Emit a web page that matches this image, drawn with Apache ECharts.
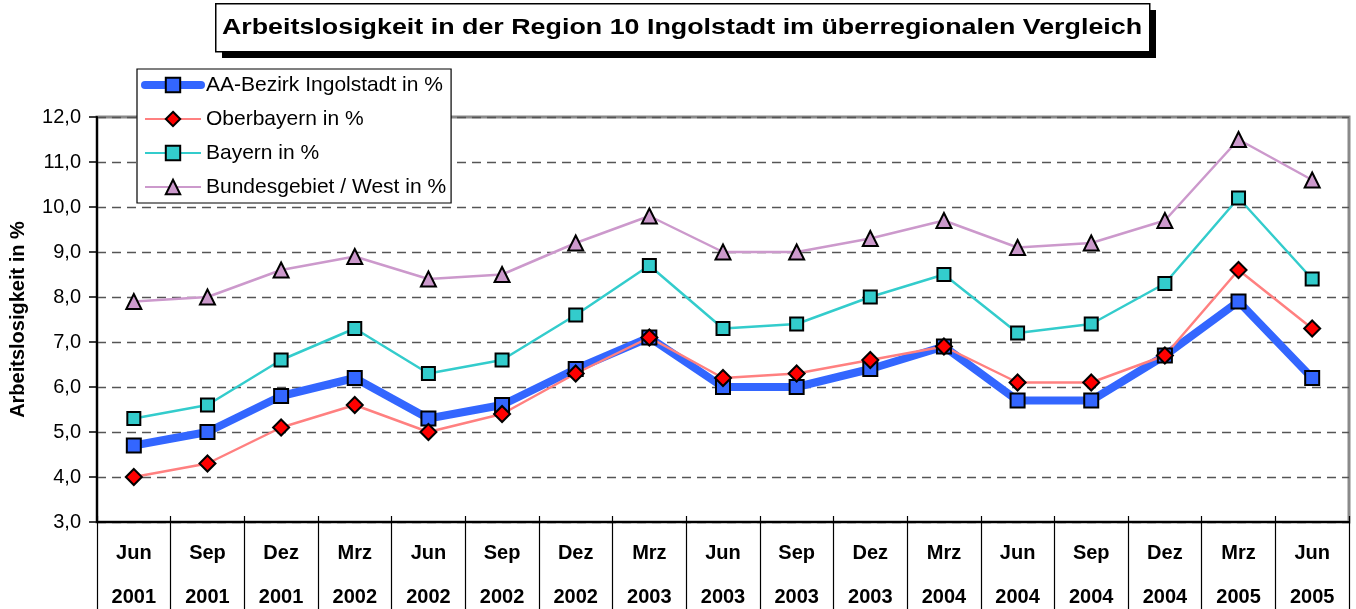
<!DOCTYPE html>
<html>
<head>
<meta charset="utf-8">
<script src="https://cdn.jsdelivr.net/npm/echarts@6/dist/echarts.min.js"></script>
<style>
html,body{margin:0;padding:0;background:#fff;}
#c{width:1356px;height:609px;}
</style>
</head>
<body>
<div id="c"></div>
<script>
const months = ['Jun','Sep','Dez','Mrz','Jun','Sep','Dez','Mrz','Jun','Sep','Dez','Mrz','Jun','Sep','Dez','Mrz','Jun'];
const years  = ['2001','2001','2001','2002','2002','2002','2002','2003','2003','2003','2003','2004','2004','2004','2004','2005','2005'];
const categories = months.map((m,i)=>m+'\n'+years[i]);

const aaIngolstadt = [4.7,5.0,5.8,6.2,5.3,5.6,6.4,7.1,6.0,6.0,6.4,6.9,5.7,5.7,6.7,7.9,6.2];
const oberbayern   = [4.0,4.3,5.1,5.6,5.0,5.4,6.3,7.1,6.2,6.3,6.6,6.9,6.1,6.1,6.7,8.6,7.3];
const bayern       = [5.3,5.6,6.6,7.3,6.3,6.6,7.6,8.7,7.3,7.4,8.0,8.5,7.2,7.4,8.3,10.2,8.4];
const bundWest     = [7.9,8.0,8.6,8.9,8.4,8.5,9.2,9.8,9.0,9.0,9.3,9.7,9.1,9.2,9.7,11.5,10.6];

const titleText = 'Arbeitslosigkeit in der Region 10 Ingolstadt im überregionalen Vergleich';
const FONT = '"Liberation Sans", Arial, sans-serif';
const chart = echarts.init(document.getElementById('c'));

function mk(name, data, lineColor, lineWidth, symbol, size, fill){
  return {
    name, type:'line', data,
    symbol, symbolSize:size,
    lineStyle:{color:lineColor, width:lineWidth},
    itemStyle:{color:fill, borderColor:'#000', borderWidth:2},
    emphasis:{disabled:true},
    xAxisIndex:0, yAxisIndex:0
  };
}

chart.setOption({
  animation:false,
  textStyle:{fontFamily:FONT},
  graphic:[
    {type:'rect', left:222, top:10, z:10, shape:{width:934, height:48}, style:{fill:'#000'}},
    {type:'rect', left:215, top:3, z:11, shape:{width:934, height:48}, style:{fill:'#fff', stroke:'#000', lineWidth:1.5}},
    {type:'text', x:682, y:28, z:12, scaleX:1.22,
      style:{text:titleText, x:0, y:0, align:'center', verticalAlign:'middle',
        font:'bold 22px "Liberation Sans", Arial, sans-serif', fill:'#000'}}
  ],
  legend:{
    orient:'vertical', left:137, top:69,
    padding:[4,5,4,4],
    backgroundColor:'#fff', borderColor:'#000', borderWidth:1.2,
    itemWidth:56, itemHeight:18, itemGap:10,
    textStyle:{fontFamily:FONT, fontSize:21, color:'#000', lineHeight:24},
    data:[
      {name:'AA-Bezirk Ingolstadt in %', lineStyle:{width:8, cap:'round'}},
      {name:'Oberbayern in %'},
      {name:'Bayern in %'},
      {name:'Bundesgebiet / West in %'}
    ]
  },
  grid:{left:97, right:7, top:117, bottom:87, outerBoundsMode:'none', containLabel:false,
    show:true, borderColor:'#8a8a8a', borderWidth:3, backgroundColor:'transparent'},
  xAxis:[{
    type:'category', data:categories, boundaryGap:true,
    axisLine:{lineStyle:{color:'#000', width:2}},
    axisTick:{show:true, length:87, lineStyle:{color:'#000', width:1.2}},
    axisLabel:{
      margin:9, interval:0,
      formatter:(v)=>{const p=v.split('\n'); return '{a|'+p[0]+'}\n{b|'+p[1]+'}';},
      rich:{
        a:{fontFamily:FONT, fontSize:20, fontWeight:'bold', color:'#000', lineHeight:44},
        b:{fontFamily:FONT, fontSize:20, fontWeight:'bold', color:'#000', lineHeight:44}
      }
    },
    splitLine:{show:false}
  },{
    type:'category', data:categories, boundaryGap:true, position:'bottom',
    axisLine:{show:false},
    axisTick:{show:true, inside:true, length:6, lineStyle:{color:'#000', width:1.2}},
    axisLabel:{show:false}, splitLine:{show:false}
  }],
  yAxis:{
    type:'value', min:3, max:12, interval:1,
    name:'Arbeitslosigkeit in %', nameLocation:'middle', nameGap:69,
    nameTextStyle:{fontFamily:FONT, fontSize:20, fontWeight:'bold', color:'#000'},
    axisLine:{show:true, lineStyle:{color:'#000', width:2}},
    axisTick:{show:true, length:8, lineStyle:{color:'#000', width:1.5}},
    axisLabel:{fontFamily:FONT, fontSize:20, color:'#000', margin:16,
      formatter:(v)=>v.toFixed(1).replace('.',',')},
    splitLine:{show:true, lineStyle:{color:'#555', width:1.3, type:[9,6]}}
  },
  series:[
    mk('AA-Bezirk Ingolstadt in %', aaIngolstadt, '#3366FF', 8, 'rect', 14, '#3366FF'),
    mk('Oberbayern in %', oberbayern, '#FF8080', 2.5, 'diamond', 16, '#FF0000'),
    mk('Bayern in %', bayern, '#33CCCC', 2.5, 'rect', 13, '#33CCCC'),
    mk('Bundesgebiet / West in %', bundWest, '#CC99CC', 2.5, 'triangle', 15, '#CC99CC')
  ]
});
</script>
</body>
</html>
